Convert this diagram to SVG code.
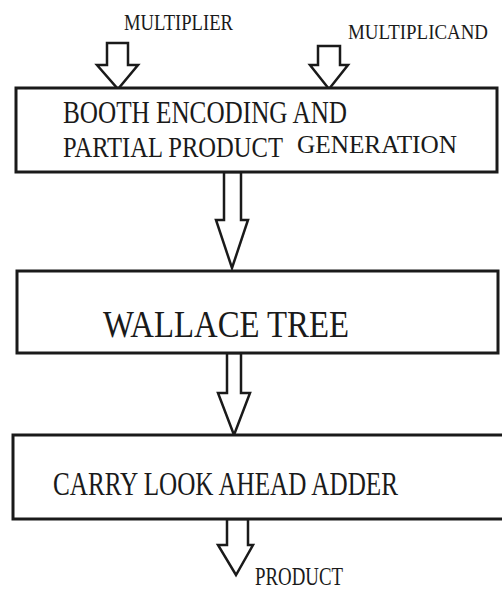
<svg xmlns="http://www.w3.org/2000/svg" width="502" height="590" viewBox="0 0 502 590">
<style>
.box{fill:#fff;stroke:#1a1a1a;stroke-width:3}
.arr{fill:#fff;stroke:#1a1a1a;stroke-width:2.5;stroke-linejoin:miter}
text{font-family:"Liberation Serif","Times New Roman",serif;fill:#1a1a1a}
</style>
<rect width="502" height="590" fill="#fff"/>
<g id="connectors">
<polygon class="arr" points="107,43 128,43 128,65 138,65 118,89 97,65 107,65"/>
<polygon class="arr" points="318,46 340,46 340,65 348,65 329,89 310,65 318,65"/>
<polygon class="arr" points="224,172 241,172 241,220 248,220 232,268 216,220 224,220"/>
<polygon class="arr" points="227,353 241,353 241,393 250,393 234,435 218,393 227,393"/>
<polygon class="arr" points="227,519 248,519 248,545 253,545 236,575 218,545 227,545"/>
</g>
<g id="label-multiplier"><text transform="translate(124,30) scale(1,1.24)" font-size="18.3" textLength="109" lengthAdjust="spacingAndGlyphs">MULTIPLIER</text></g>
<g id="label-multiplicand"><text transform="translate(348,39) scale(1,1.18)" font-size="18.6" textLength="140" lengthAdjust="spacingAndGlyphs">MULTIPLICAND</text></g>
<g id="booth">
<rect class="box" x="16" y="88" width="481" height="84"/>
<text transform="translate(63,123) scale(1,1.27)" font-size="25" textLength="284" lengthAdjust="spacingAndGlyphs">BOOTH ENCODING AND</text>
<text transform="translate(63,157) scale(1,1.27)" font-size="24" textLength="220" lengthAdjust="spacingAndGlyphs">PARTIAL PRODUCT</text>
<text transform="translate(297,153) scale(1,1.05)" font-size="24.8" textLength="160" lengthAdjust="spacingAndGlyphs">GENERATION</text>
</g>
<g id="wallace">
<rect class="box" x="17" y="271" width="481" height="82"/>
<text transform="translate(103,337) scale(1,1.17)" font-size="32.2" textLength="246" lengthAdjust="spacingAndGlyphs">WALLACE TREE</text>
</g>
<g id="cla">
<rect class="box" x="13" y="435" width="500" height="84"/>
<text transform="translate(53,495) scale(1,1.33)" font-size="24.8" textLength="345" lengthAdjust="spacingAndGlyphs">CARRY LOOK AHEAD ADDER</text>
</g>
<g id="label-product"><text transform="translate(255,585) scale(1,1.3)" font-size="18.9" textLength="88" lengthAdjust="spacingAndGlyphs">PRODUCT</text></g>
</svg>
